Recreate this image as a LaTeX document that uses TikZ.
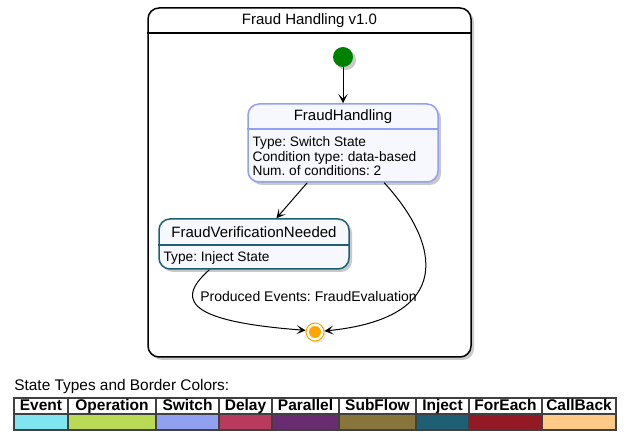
\documentclass[tikz,border=0pt]{standalone}
\usepackage{fontspec}
\setmainfont{Liberation Sans}
\usetikzlibrary{arrows.meta,calc,shadows}
\frenchspacing

\definecolor{eventc}{HTML}{7FE5F0}
\definecolor{operationc}{HTML}{BADA55}
\definecolor{switchc}{HTML}{92A0F2}
\definecolor{delayc}{HTML}{B83B5E}
\definecolor{parallelc}{HTML}{6A2C70}
\definecolor{subflowc}{HTML}{87753C}
\definecolor{injectc}{HTML}{1E5F74}
\definecolor{foreachc}{HTML}{931A25}
\definecolor{callbackc}{HTML}{FFC988}
\definecolor{statefill}{HTML}{F7F8FD}
\definecolor{initc}{HTML}{008000}
\definecolor{finalc}{HTML}{FFA500}

\tikzset{every picture/.style={line width=0.75pt}}
\tikzset{
  boxshadow/.style={drop shadow={shadow xshift=3pt, shadow yshift=-3pt, opacity=0.35, fill=black!60}},
  wfbox/.style={draw, line width=1.5pt, rounded corners=11pt, fill=white, boxshadow},
  statebox/.style={draw, line width=1.5pt, rounded corners=11pt, fill=statefill, boxshadow},
  sline/.style={line width=1.5pt},
  stitle/.style={inner sep=0pt, font=\fontsize{15}{18}\selectfont},
  sbody/.style={inner sep=0pt, align=left, font=\fontsize{13.7}{14.6}\selectfont},
  lbl/.style={inner sep=0pt, font=\fontsize{14}{16}\selectfont},
  trans/.style={-{Stealth[length=9pt, width=9pt, inset=4.5pt]}, line width=1pt},
  initst/.style={circle, fill=initc, minimum size=20pt, inner sep=0pt, boxshadow},
  finalst/.style={circle, draw=finalc, fill=white, line width=1pt, minimum size=18pt, inner sep=0pt, drop shadow={shadow xshift=2pt, shadow yshift=-2pt, opacity=0.15}},
  cellline/.style={draw=black!75, line width=1.2pt},
  lgdhead/.style={inner sep=0pt, text height=11pt, text depth=3pt, font=\bfseries\fontsize{15.5}{18}\selectfont},
  lgdtitle/.style={inner sep=0pt, font=\fontsize{15.4}{18}\selectfont}
}

\begin{document}
\begin{tikzpicture}[x=1pt,y=1pt,yscale=-1,xscale=1]
\useasboundingbox (0,0) rectangle (624,438);

% Workflow box
\node[wfbox, minimum width=323pt, minimum height=349pt] (wf) at (309.5,182.5) {};
\draw[sline] ($(wf.north west)+(0,26)$) -- ($(wf.north east)+(0,26)$);
\node[stitle] (wf-t) at ($(wf.north)+(0,13)$) {Fraud Handling v1.0};

% Start and end
\node[initst] (init) at (343,57) {};
\node[finalst] (final) at (315,332) {};
\fill[finalc] (final.center) circle (6);

% State FraudHandling
\node[statebox, draw=switchc, minimum width=190pt, minimum height=78pt] (fh) at (343,143) {};
\draw[sline, switchc] ($(fh.north west)+(0,26)$) -- ($(fh.north east)+(0,26)$);
\node[stitle] (fh-t) at ($(fh.north)+(0,13)$) {FraudHandling};
\node[sbody, anchor=north west] (fh-b) at ($(fh.north west)+(5,33)$) {Type: Switch State\\Condition type: data-based\\Num. of conditions: 2};

% State FraudVerificationNeeded
\node[statebox, draw=injectc, minimum width=190pt, minimum height=50pt] (fvn) at (254,244) {};
\draw[sline, injectc] ($(fvn.north west)+(0,27)$) -- ($(fvn.north east)+(0,27)$);
\node[stitle] (fvn-t) at ($(fvn.north)+(0,13.5)$) {FraudVerificationNeeded};
\node[sbody, anchor=north west] (fvn-b) at ($(fvn.north west)+(5,33)$) {Type: Inject State};

% Transitions
\draw[trans] (init) -- (fh);
\draw[trans] (fh.228) -- (fvn.49);
\draw[trans] (fh.316) .. controls +(57,62) and +(130,-13) .. (final.6);
\draw[trans] (fvn.210) .. controls +(-40,35) and +(-105,-8) .. (final.170);

% Text Node
\node[lbl, anchor=west] (evlbl) at (200,296) {Produced Events: FraudEvaluation};

% Legend
\node[lgdtitle, anchor=west] (lgd) at (14,387) {State Types and Border Colors:};
\foreach \nm/\col/\xa/\xb in {Event/eventc/14/68, Operation/operationc/68/156, Switch/switchc/156/219, Delay/delayc/219/272, Parallel/parallelc/272/339, SubFlow/subflowc/339/416, Inject/injectc/416/469, ForEach/foreachc/469/542, CallBack/callbackc/542/616}{
  \draw[cellline, fill=white] (\xa,398) rectangle (\xb,414);
  \draw[cellline, fill=\col] (\xa,414) rectangle (\xb,430);
  \node[lgdhead] (hd-\nm) at ({(\xa+\xb)/2},406) {\nm};
}

\end{tikzpicture}
\end{document}
